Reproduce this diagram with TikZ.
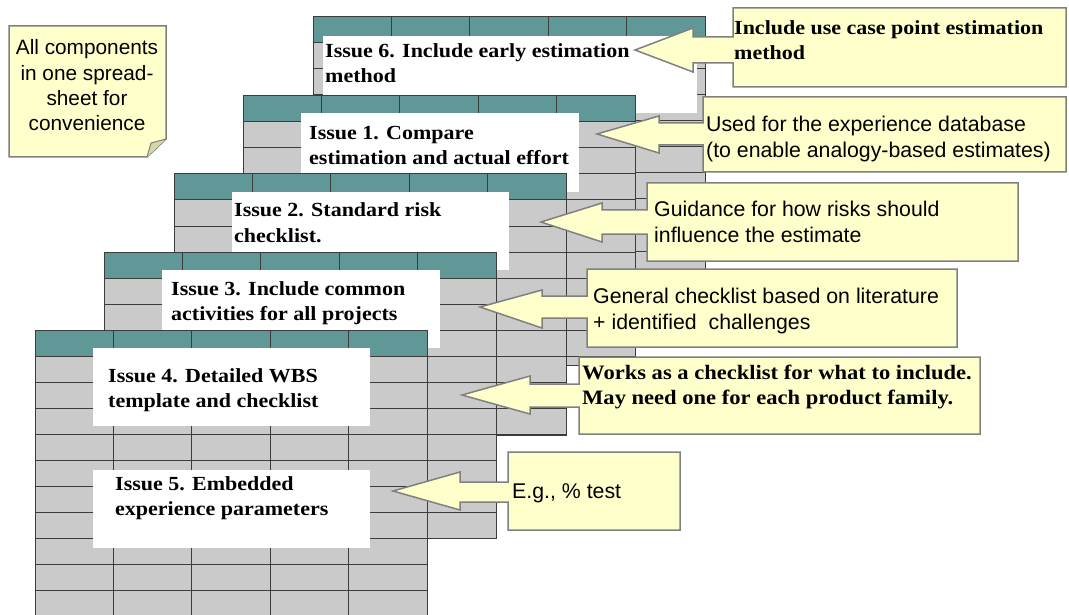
\documentclass[tikz,border=0pt]{standalone}
\usepackage{fontspec}
\newfontfamily\sansf{Liberation Sans}
\newfontfamily\serb{Liberation Serif}[FakeStretch=1.1]
\definecolor{cellgrey}{RGB}{202,202,202}
\definecolor{headteal}{RGB}{96,152,152}
\definecolor{gridc}{RGB}{60,60,60}
\definecolor{callfill}{RGB}{255,255,204}
\definecolor{callline}{RGB}{128,128,128}
\definecolor{foldc}{RGB}{215,215,165}
\tikzset{
  gridline/.style={draw=gridc, line width=1pt},
  callshape/.style={fill=callfill, draw=callline, line width=1.5pt, line join=miter},
  issuetxt/.style={anchor=base west, inner sep=0pt, font=\serb\bfseries\fontsize{20}{25}\selectfont},
  bigissuetxt/.style={anchor=base west, inner sep=0pt, font=\serb\bfseries\fontsize{20.5}{25}\selectfont},
  calltxt/.style={anchor=base west, inner sep=0pt, font=\sansf\fontsize{21.3}{26}\selectfont},
  notetxt/.style={anchor=base, inner sep=0pt, font=\sansf\fontsize{20.8}{25.3}\selectfont},
  labelbox/.style={fill=white},
}
\newcommand\drawsheet[3]{%
  \fill[cellgrey] (#1,#2) rectangle (#1+392,#3);
  \fill[headteal] (#1,#2) rectangle (#1+392,#2+26);
  \begin{scope}
    \clip (#1,#2) rectangle (#1+392,#3);
    \foreach \r in {1,...,12} \draw[gridline] (#1,#2+26*\r) -- (#1+392,#2+26*\r);
  \end{scope}
  \foreach \c in {1,...,4} \draw[gridline] (#1+78.4*\c,#2) -- (#1+78.4*\c,#3);
  \draw[gridline] (#1,#2) rectangle (#1+392,#3);
}
\begin{document}
\begin{tikzpicture}[x=1pt,y=-1pt]
\useasboundingbox[fill=white] (0,0) rectangle (1069,615);

% note
\draw[callshape] (9,26) -- (166,26) -- (166,139) -- (147,157) -- (9,157) -- cycle;
\filldraw[fill=foldc, draw=callline, line width=1pt] (147,157) -- (151,143) -- (166,139);
\node[notetxt] (note) at (87,55) {\begin{tabular}[t]{@{}c@{}}All components\\in one spread-\\sheet for\\convenience\end{tabular}};

% stacked sheets, back to front
\drawsheet{313}{17}{277}
\fill[labelbox] (323,36) rectangle (697,113);
\drawsheet{243}{96}{365}
\fill[labelbox] (301,113) rectangle (579,192);
\drawsheet{174}{174}{435}
\fill[labelbox] (232,192) rectangle (509,270);
\drawsheet{104}{252}{538}
\fill[labelbox] (162,270) rectangle (440,348);
\drawsheet{35}{330}{620}
\fill[labelbox] (93,348) rectangle (370,426);
\fill[labelbox] (93,470) rectangle (370,548);

\node[issuetxt] (i6) at (325,58) {\begin{tabular}[t]{@{}l@{}}Issue 6. Include early estimation\\method\end{tabular}};
\node[issuetxt] (i1) at (309,140) {\begin{tabular}[t]{@{}l@{}}Issue 1. Compare\\estimation and actual effort\end{tabular}};
\node[issuetxt] (i2) at (234,217) {\begin{tabular}[t]{@{}l@{}}Issue 2. Standard risk\\checklist.\end{tabular}};
\node[issuetxt] (i3) at (171,295) {\begin{tabular}[t]{@{}l@{}}Issue 3. Include common\\activities for all projects\end{tabular}};
\node[issuetxt] (i4) at (108,382) {\begin{tabular}[t]{@{}l@{}}Issue 4. Detailed WBS\\template and checklist\end{tabular}};
\node[issuetxt] (i5) at (115,490) {\begin{tabular}[t]{@{}l@{}}Issue 5. Embedded\\experience parameters\end{tabular}};

% callouts
\draw[callshape] (733,8) -- (1066,8) -- (1066,87) -- (733,87) -- (733,63) -- (693,63) -- (693,72) -- (635,50) -- (693,28) -- (693,37) -- (733,37) -- cycle;
\draw[callshape] (703,97) -- (1066,97) -- (1066,172) -- (703,172) -- (703,145) -- (659,145) -- (659,153) -- (597,134) -- (659,116) -- (659,123) -- (703,123) -- cycle;
\draw[callshape] (647,183) -- (1018,183) -- (1018,261) -- (647,261) -- (647,234) -- (602,234) -- (602,242) -- (541,222) -- (602,203) -- (602,210) -- (647,210) -- cycle;
\draw[callshape] (587,269) -- (957,269) -- (957,347) -- (587,347) -- (587,318) -- (542,318) -- (542,328) -- (480,307) -- (542,290) -- (542,296) -- (587,296) -- cycle;
\draw[callshape] (579,357) -- (980,357) -- (980,434) -- (579,434) -- (579,407) -- (530,407) -- (530,414) -- (462,395) -- (530,376) -- (530,384) -- (579,384) -- cycle;
\draw[callshape] (508,452) -- (680,452) -- (680,530) -- (508,530) -- (508,502) -- (460,502) -- (460,510) -- (393,491) -- (460,472) -- (460,482) -- (508,482) -- cycle;

\node[issuetxt] (c6) at (734,35) {\begin{tabular}[t]{@{}l@{}}Include use case point estimation\\method\end{tabular}};
\node[calltxt] (c1) at (706,132) {\begin{tabular}[t]{@{}l@{}}Used for the experience database\\(to enable analogy-based estimates)\end{tabular}};
\node[calltxt] (c2) at (654,217) {\begin{tabular}[t]{@{}l@{}}Guidance for how risks should\\influence the estimate\end{tabular}};
\node[calltxt] (c3) at (593,303) {\begin{tabular}[t]{@{}l@{}}General checklist based on literature\\+ identified\ \ challenges\end{tabular}};
\node[bigissuetxt] (c4) at (582,379) {\begin{tabular}[t]{@{}l@{}}Works as a checklist for what to include.\\May need one for each product family.\end{tabular}};
\node[calltxt] (c5) at (512,498) {E.g., \% test};
\end{tikzpicture}
\end{document}
